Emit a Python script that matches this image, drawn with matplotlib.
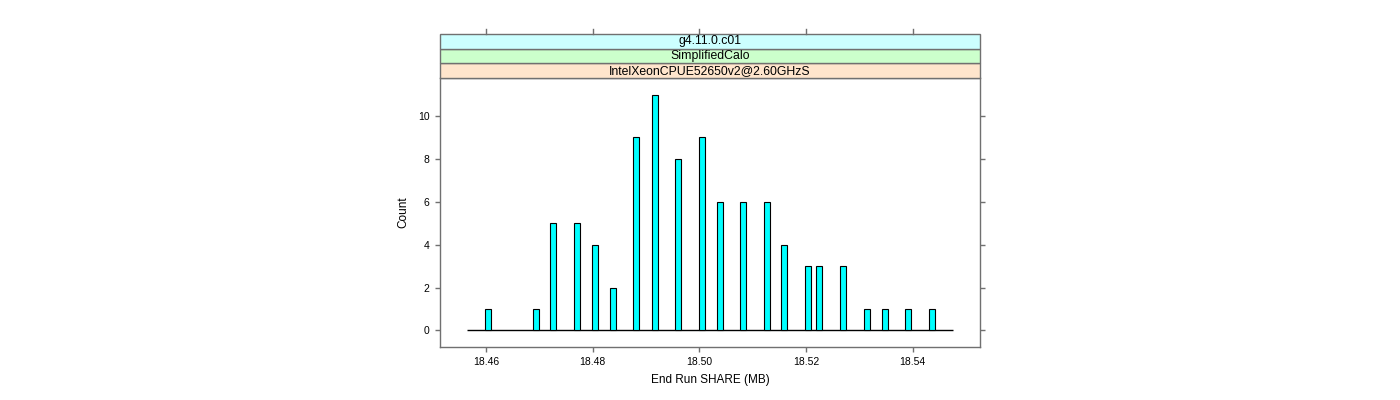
import matplotlib.pyplot as plt
from matplotlib.patches import Rectangle

plt.rcParams['font.family'] = ['Liberation Sans', 'DejaVu Sans']

# -----------------------------
# Data
# -----------------------------
share_mb = [18.4604, 18.4693, 18.4726, 18.4771, 18.4804, 18.4838, 18.4882,
            18.4916, 18.4960, 18.5005, 18.5038, 18.5081, 18.5126, 18.5159,
            18.5204, 18.5225, 18.5270, 18.5315, 18.5348, 18.5392, 18.5437]
counts = [1, 1, 5, 5, 4, 2, 9, 11, 8, 9, 6, 6, 6, 4, 3, 3, 3, 1, 1, 1, 1]
bin_width = 0.00113
hist_range = (18.4565, 18.5476)

strip_labels = ["g4.11.0.c01", "SimplifiedCalo", "IntelXeonCPUE52650v2@2.60GHzS"]
strip_colors = ["#CCFFFF", "#CCFFCC", "#FFE5CC"]

x_ticks = [18.46, 18.48, 18.50, 18.52, 18.54]
y_ticks = [0, 2, 4, 6, 8, 10]

FRAME_COL = "#707070"

# -----------------------------
# Figure
# -----------------------------
fig = plt.figure(figsize=(14, 4), dpi=100)
ax = fig.add_axes([440 / 1400, 1 - 347 / 400, 540 / 1400, 269 / 400])

ax.bar(share_mb, counts, width=bin_width, color="#00FFFF",
       edgecolor="black", linewidth=0.8, zorder=3)
ax.hlines(0, hist_range[0], hist_range[1], color="black", linewidth=1, zorder=2)

ax.set_xlim(18.45137, 18.55263)
ax.set_ylim(-0.77, 11.77)

ax.set_xticks(x_ticks)
ax.set_xticklabels([f"{t:.2f}" for t in x_ticks])
ax.set_yticks(y_ticks)
ax.tick_params(axis="both", direction="out", length=3.5, width=1,
               color=FRAME_COL, labelsize=7.5, pad=4)
ax.tick_params(axis="y", right=True)

for spine in ax.spines.values():
    spine.set_color(FRAME_COL)
    spine.set_linewidth(1)

ax.set_xlabel("End Run SHARE (MB)", fontsize=8.5, labelpad=5)
ax.set_ylabel("Count", fontsize=8.5, labelpad=6)

# -----------------------------
# Strips on top (lattice style)
# -----------------------------
strip_h = 14.7 / 400
top_of_panel = 1 - 78 / 400
left = 440 / 1400
width = 540 / 1400
for i, (label, col) in enumerate(zip(reversed(strip_labels), reversed(strip_colors))):
    y0 = top_of_panel + i * strip_h
    fig.patches.append(Rectangle((left, y0), width, strip_h, transform=fig.transFigure,
                                 facecolor=col, edgecolor=FRAME_COL, linewidth=1))
    fig.text(left + width / 2, y0 + strip_h / 2, label, ha="center", va="center",
             fontsize=8.8)

# top ticks above the strips
top_y = top_of_panel + 3 * strip_h
x0, x1 = ax.get_xlim()
for t in x_ticks:
    fx = left + (t - x0) / (x1 - x0) * width
    fig.lines.append(plt.Line2D([fx, fx], [top_y, top_y + 4.5 / 400],
                                transform=fig.transFigure, color=FRAME_COL,
                                linewidth=1))

fig.savefig("out.png", dpi=100)
